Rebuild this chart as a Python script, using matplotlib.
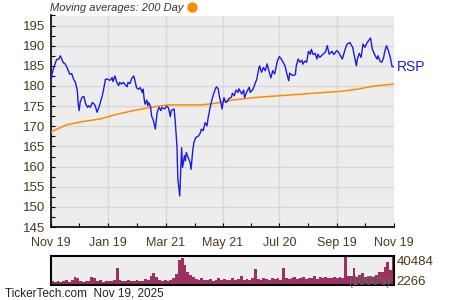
import datetime as dt
import matplotlib
matplotlib.use("Agg")
import matplotlib.pyplot as plt
import matplotlib.dates as mdates
from matplotlib.lines import Line2D
from matplotlib.ticker import MultipleLocator, FixedLocator

plt.rcParams['font.family'] = ['Liberation Sans', 'DejaVu Sans']

start = dt.date(2024, 11, 19)
end = dt.date(2025, 11, 19)

# RSP close (day offset from start, price)
price_days = [0, 1, 3, 6, 8, 10, 13, 15, 17, 20, 22, 24, 26, 28, 29, 30, 31, 33, 35, 37,
              39, 40, 42, 44, 46, 47, 49, 51, 53, 55, 56, 58, 60, 63, 65, 66, 68, 70, 72, 73,
              75, 77, 79, 81, 82, 84, 86, 88, 89, 91, 93, 95, 97, 98, 99, 100, 102, 103, 104, 106,
              107, 109, 111, 112, 113, 115, 117, 118, 121, 123, 125, 127, 128, 131, 132, 134, 135, 137, 139, 140,
              142, 143, 144, 146, 148, 149, 151, 152, 154, 157, 159, 160, 162, 164, 166, 167, 169, 171, 172, 173,
              175, 176, 178, 179, 181, 182, 184, 186, 188, 189, 192, 193, 195, 197, 199, 200, 203, 205, 206, 208,
              211, 212, 215, 217, 219, 221, 222, 224, 226, 228, 230, 231, 234, 236, 238, 241, 243, 245, 247, 249,
              251, 253, 254, 257, 260, 261, 263, 265, 267, 268, 270, 272, 274, 276, 277, 279, 281, 283, 284, 286,
              289, 292, 294, 296, 299, 301, 304, 306, 308, 310, 313, 315, 318, 321, 323, 325, 326, 328, 330, 332,
              334, 336, 338, 340, 342, 345, 347, 348, 350, 352, 354, 355, 357, 359, 361, 363, 365]
price = [181.0, 182.9, 184.6, 186.6, 186.6, 187.5, 185.8, 185.5, 184.6, 182.9, 183.1, 181.7, 180.9, 178.8, 175.5, 173.9, 175.9, 177.2, 177.4, 175.5,
         174.7, 175.1, 174.7, 175.9, 175.5, 175.1, 173.5, 174.7, 176.3, 178.0, 179.2, 181.7, 181.7, 181.4, 182.1, 181.1, 182.5, 180.9, 180.1, 180.9,
         180.5, 180.9, 180.3, 179.8, 180.9, 180.6, 181.9, 182.5, 181.7, 179.6, 179.2, 179.6, 178.4, 179.2, 177.1, 175.5, 176.5, 175.1, 175.9, 174.8,
         172.6, 171.4, 169.3, 171.4, 173.5, 174.7, 173.9, 174.7, 174.3, 175.0, 174.6, 172.4, 173.9, 174.3, 171.8, 165.2, 156.9, 152.7, 164.7, 159.8,
         162.7, 161.4, 163.5, 162.2, 161.0, 159.3, 164.3, 165.9, 167.2, 167.6, 168.4, 169.3, 168.9, 170.9, 170.1, 171.8, 174.3, 176.4, 177.2, 178.0,
         179.3, 179.8, 179.3, 177.6, 175.6, 174.3, 177.1, 175.9, 176.2, 176.8, 177.2, 178.2, 177.6, 179.0, 178.4, 179.3, 178.0, 179.0, 177.1, 178.4,
         179.7, 178.4, 179.2, 180.5, 181.7, 184.2, 185.0, 183.4, 184.6, 183.8, 185.5, 184.5, 182.0, 183.8, 183.0, 186.3, 187.3, 186.7, 185.9, 185.0,
         183.0, 181.3, 183.2, 182.6, 182.8, 185.0, 186.7, 185.9, 186.4, 185.4, 186.2, 185.9, 188.6, 187.9, 189.1, 187.8, 188.1, 186.7, 187.9, 187.1,
         187.8, 188.4, 190.0, 187.9, 188.6, 187.8, 188.8, 188.4, 187.5, 186.7, 189.1, 190.4, 190.8, 189.6, 187.3, 185.0, 186.7, 188.1, 187.1, 190.4,
         189.6, 190.6, 191.3, 191.9, 189.1, 187.5, 186.7, 187.5, 186.2, 185.9, 187.1, 188.4, 190.0, 188.8, 187.1, 184.8, 184.8]

# 200 day moving average
ma_days = [0, 17, 34, 52, 70, 88, 106, 124, 141, 160, 178, 185, 220, 256, 291, 309, 326, 344, 365]
ma200 = [168.6, 170.4, 171.2, 171.8, 173.0, 173.9, 174.7, 175.3, 175.3, 175.3, 175.8, 176.3, 177.2, 177.8, 178.4, 178.7, 179.2, 180.0, 180.5]

# volume in 1000's, one bar per 3 days
vol_step = 3
volume = [7000, 6500, 8000, 6000, 7500, 9000, 6500, 8500, 12500, 11000,
          7000, 6500, 8000, 7500, 13000, 12000, 7000, 8500, 6500, 7500,
          8000, 7000, 9000, 24800, 9500, 8000, 7500, 8500, 7000, 8000,
          9000, 7500, 8000, 10000, 8500, 14000, 18500, 13000, 9000, 8000,
          8500, 7500, 9000, 12000, 17000, 34800, 37900, 28000, 20000, 15000,
          12500, 10000, 9000, 11000, 8500, 9500, 10000, 8000, 9500, 12000,
          9000, 10500, 8500, 9500, 11000, 9000, 10000, 14000, 9500, 10500,
          9000, 11000, 24000, 10500, 9000, 11500, 10000, 9500, 12000, 10500,
          11000, 9500, 25000, 12000, 10500, 11000, 12500, 10000, 11500, 13000,
          10500, 12000, 11000, 13500, 10000, 12500, 11000, 13000, 12000, 11500,
          12500, 11000, 13000, 12000, 40000, 13500, 14000, 25000, 12500, 16000,
          18000, 13000, 12500, 14000, 13000, 15000, 20000, 19000, 26000, 32000,
          22000, 40484]
vol_low, vol_high = 2266, 40484

x_major = [dt.date(2024, 11, 19), dt.date(2025, 1, 19), dt.date(2025, 3, 21), dt.date(2025, 5, 21),
           dt.date(2025, 7, 20), dt.date(2025, 9, 19), dt.date(2025, 11, 19)]
x_minor = [dt.date(2024, 12, 19), dt.date(2025, 2, 19), dt.date(2025, 4, 21),
           dt.date(2025, 6, 20), dt.date(2025, 8, 20), dt.date(2025, 10, 19)]

label_col = '#4a3a1a'
grid_col = '#d8d8d8'
bg_col = '#ededed'

fig = plt.figure(figsize=(4.5, 3.0), dpi=100)
ax = fig.add_axes([51 / 450, 1 - 227 / 300, 343 / 450, 211.5 / 300])
axv = fig.add_axes([51 / 450, 1 - 285 / 300, 343 / 450, 29 / 300])

p_dates = [start + dt.timedelta(days=d) for d in price_days]
m_dates = [start + dt.timedelta(days=d) for d in ma_days]

ax.set_facecolor(bg_col)
ax.plot(m_dates, ma200, color='#ff8c00', lw=1.1, zorder=3)
ax.plot(p_dates, price, color='#1c1ce0', lw=1.0, zorder=4)
ax.set_xlim(start, end)
ax.set_ylim(145, 197.5)
ax.yaxis.set_major_locator(MultipleLocator(5))
ax.yaxis.set_minor_locator(MultipleLocator(2.5))
ax.xaxis.set_major_locator(FixedLocator(mdates.date2num(x_major)))
ax.xaxis.set_minor_locator(FixedLocator(mdates.date2num(x_minor)))
ax.xaxis.set_major_formatter(mdates.DateFormatter('%b %d'))
ax.grid(True, which='major', color=grid_col, lw=1.0)
ax.set_axisbelow(True)
for s in ['top', 'right']:
    ax.spines[s].set_visible(False)
for s in ['left', 'bottom']:
    ax.spines[s].set_linewidth(1.2)
ax.tick_params(which='both', direction='in', length=3, width=0.8, colors='black',
               labelcolor=label_col)
ax.tick_params(axis='x', pad=7, labelsize=9)
ax.tick_params(axis='y', pad=4, labelsize=9.5)
ax.text(1.008, (184.8 - 145) / 52.5, 'RSP', transform=ax.transAxes, color='#1c1ce0',
        fontsize=10, va='center', ha='left')

fig.text(50 / 450, 1 - 8 / 300, 'Moving averages: 200 Day', style='italic',
         fontsize=8, color='#333333', va='center', ha='left')
fig.add_artist(Line2D([192 / 450], [1 - 7 / 300], transform=fig.transFigure, marker='o',
                      markersize=6.5, color='#ff8c00', linestyle='none'))

v_dates = [start + dt.timedelta(days=i * vol_step) for i in range(len(volume))]
axv.set_facecolor(bg_col)
axv.bar(v_dates, volume, width=vol_step, color='#9c3062', align='edge', lw=0)
axv.set_xlim(start, end)
axv.set_ylim(vol_low, vol_high)
axv.set_xticks([])
axv.set_yticks([])
for s in axv.spines.values():
    s.set_linewidth(1.5)
axv.text(1.008, 0.8, f'{vol_high}', transform=axv.transAxes, fontsize=9.5,
         color=label_col, va='center', ha='left')
axv.text(1.008, 0.1, f'{vol_low}', transform=axv.transAxes, fontsize=9.5,
         color=label_col, va='center', ha='left')
axv.text(0.99, 0.1, "(1000's)", transform=axv.transAxes, fontsize=8.5,
         color='#5a6e60', va='center', ha='right')

fig.text(5 / 450, 1 - 294 / 300, 'TickerTech.com  Nov 19, 2025', fontsize=8.5,
         color='#222222', va='center', ha='left')

fig.savefig('out.png', dpi=100)
